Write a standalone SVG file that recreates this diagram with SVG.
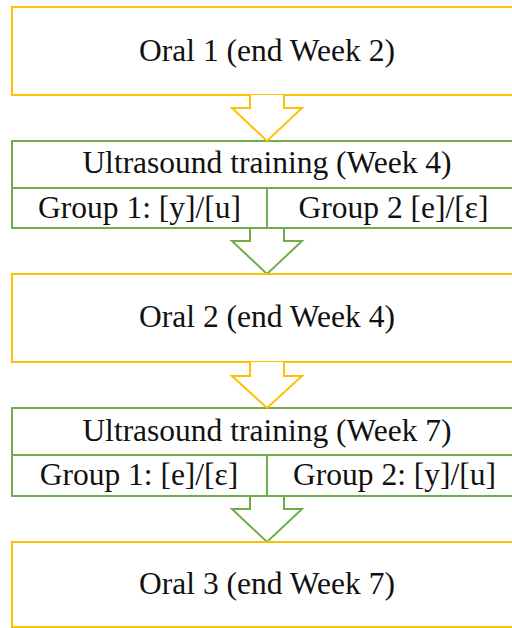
<svg xmlns="http://www.w3.org/2000/svg" width="512" height="628" viewBox="0 0 512 628">
<style>
  .bg { fill: #ffffff; }
  .y { fill: #ffffff; stroke: #FFC000; stroke-width: 2; }
  .g { fill: #ffffff; stroke: #70AD47; stroke-width: 2; }
  .gl { fill: none; stroke: #70AD47; stroke-width: 2; }
  .t { font-family: "Liberation Serif", "Times New Roman", serif; font-size: 31.5px; fill: #111111; text-anchor: middle; }
</style>
<rect class="bg" x="0" y="0" width="512" height="628"/>

<g id="connectors-green">
  <path class="g" d="M250,228 L250,241 L232,241 L267,274 L302,241 L284,241 L284,228"/>
  <path class="g" d="M250,496 L250,509 L232,509 L267,542 L302,509 L284,509 L284,496"/>
</g>

<g id="oral1">
  <rect class="y" x="12" y="7" width="510" height="88"/>
  <text class="t" x="267" y="60.5">Oral 1 (end Week 2)</text>
</g>

<g id="training1">
  <rect class="g" x="12" y="141" width="510" height="87"/>
  <line class="gl" x1="12" y1="188" x2="522" y2="188"/>
  <line class="gl" x1="267" y1="188" x2="267" y2="228"/>
  <text class="t" x="267" y="173">Ultrasound training (Week 4)</text>
  <text class="t" x="139.5" y="218">Group 1: [y]/[u]</text>
  <text class="t" x="393.5" y="218">Group 2 [e]/[ε]</text>
</g>

<g id="oral2">
  <rect class="y" x="12" y="274" width="510" height="88"/>
  <text class="t" x="267" y="327">Oral 2 (end Week 4)</text>
</g>

<g id="training2">
  <rect class="g" x="12" y="408" width="510" height="88"/>
  <line class="gl" x1="12" y1="455" x2="522" y2="455"/>
  <line class="gl" x1="267" y1="455" x2="267" y2="496"/>
  <text class="t" x="267" y="441">Ultrasound training (Week 7)</text>
  <text class="t" x="139" y="485">Group 1: [e]/[ε]</text>
  <text class="t" x="394.5" y="485">Group 2: [y]/[u]</text>
</g>

<g id="oral3">
  <rect class="y" x="12" y="542" width="510" height="85"/>
  <text class="t" x="267" y="593.5">Oral 3 (end Week 7)</text>
</g>

<g id="connectors-yellow">
  <path class="y" d="M250,95 L250,108 L232,108 L267,141 L302,108 L284,108 L284,95"/>
  <path class="y" d="M250,362 L250,376 L232,376 L267,408 L302,376 L284,376 L284,362"/>
</g>
</svg>
